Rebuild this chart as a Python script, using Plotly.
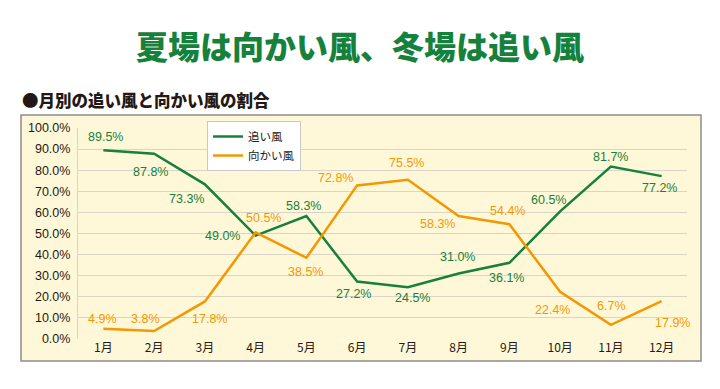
import plotly.graph_objects as go

months = ["1月", "2月", "3月", "4月", "5月", "6月", "7月", "8月", "9月", "10月", "11月", "12月"]
tailwind = [89.5, 87.8, 73.3, 49.0, 58.3, 27.2, 24.5, 31.0, 36.1, 60.5, 81.7, 77.2]
headwind = [4.9, 3.8, 17.8, 50.5, 38.5, 72.8, 75.5, 58.3, 54.4, 22.4, 6.7, 17.9]
y_ticks = [0, 10, 20, 30, 40, 50, 60, 70, 80, 90, 100]

# label offsets in pixels (dx right, dy down)
tail_off = [(2, -13), (-4, 18), (-18, 15), (-33, 0), (-3, -10), (-4, 12),
            (5, 11), (-1, -17), (-3, 15), (-12, -11), (0, -10), (-2, 12)]
head_off = [(-1, -10), (-9, -12), (5, 18), (8, -14), (-1, 14), (-22, -7),
            (-1, -17), (-21, 8), (-2, -13), (-8, 18), (1, -19), (11, 22)]

GREEN = "#16813A"
ORANGE = "#F39800"
W, H = 720, 389
L, R, T, B = 78, 33, 128, 50
PW, PH = W - L - R, H - T - B


def px(x):
    return (x - L) / PW


def py(y):
    return (H - B - y) / PH


fig = go.Figure()
fig.add_trace(go.Scatter(x=months, y=tailwind, mode="lines", name="追い風",
                         line=dict(color=GREEN, width=2.5)))
fig.add_trace(go.Scatter(x=months, y=headwind, mode="lines", name="向かい風",
                         line=dict(color=ORANGE, width=2.5)))

anns = []
for vals, offs, col in ((tailwind, tail_off, GREEN), (headwind, head_off, ORANGE)):
    for m, v, (dx, dy) in zip(months, vals, offs):
        anns.append(dict(x=m, y=v, xref="x", yref="y", text=f"{v:.1f}%",
                         showarrow=False, xshift=dx, yshift=-dy,
                         font=dict(family="Liberation Sans, Arial", size=12.5, color=col)))

# titles
anns.append(dict(x=px(360), y=py(45), xref="paper", yref="paper", xanchor="center", yanchor="middle",
                 text="夏場は向かい風、冬場は追い風", showarrow=False,
                 font=dict(family="Noto Sans CJK JP", size=32, color=GREEN, weight=900)))
anns.append(dict(x=px(20), y=py(100), xref="paper", yref="paper", xanchor="left", yanchor="middle",
                 text="●月別の追い風と向かい風の割合", showarrow=False,
                 font=dict(family="Noto Sans CJK JP", size=16.5, color="#231815", weight=900)))

fig.update_layout(
    width=W, height=H,
    margin=dict(l=L, r=R, t=T, b=B, autoexpand=False),
    paper_bgcolor="white",
    plot_bgcolor="rgba(0,0,0,0)",
    annotations=anns,
    showlegend=True,
    legend=dict(x=px(207), y=py(121), xanchor="left", yanchor="top",
                bgcolor="white", bordercolor="#C8C8C8", borderwidth=1,
                font=dict(family="Noto Sans CJK JP", size=11.5, color="#231815"),
                itemwidth=30, tracegroupgap=2),
    shapes=[dict(type="rect", xref="paper", yref="paper", layer="below",
                 x0=px(21), x1=px(701), y0=py(361), y1=py(115),
                 fillcolor="#FFF8D8", line=dict(color="#8C8C8C", width=1.5))],
)
fig.update_xaxes(type="category", range=[-0.5, 11.5], showgrid=False, ticks="",
                 showline=False, zeroline=False,
                 tickfont=dict(family="Noto Sans CJK JP", size=12, color="#231815"))
fig.update_yaxes(range=[0, 100], tickvals=y_ticks, ticktext=[f"{v:.1f}%" for v in y_ticks],
                 showgrid=True, gridcolor="#D9D6C8", gridwidth=1.2, zeroline=False,
                 showline=True, linecolor="#D9D6C8", linewidth=1.2, ticks="",
                 ticklabelstandoff=4,
                 tickfont=dict(family="Liberation Sans, Arial", size=12.5, color="#231815"))

fig.write_html("out.html", config={"displayModeBar": False},
               post_script="document.body.style.margin='0';")
